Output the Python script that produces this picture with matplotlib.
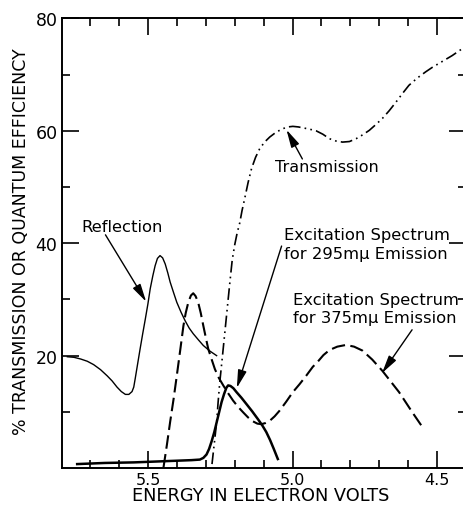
import numpy as np
import matplotlib
matplotlib.use("Agg")
import matplotlib.pyplot as plt
from matplotlib.ticker import FixedLocator, NullFormatter

# reflection (thin solid)
refl_ev = [5.780, 5.757, 5.734, 5.711, 5.689, 5.665, 5.642, 5.625, 5.608, 5.593,
           5.579, 5.567, 5.556, 5.550, 5.545, 5.537, 5.528, 5.519, 5.510, 5.501,
           5.493, 5.484, 5.476, 5.468, 5.459, 5.450, 5.441, 5.432, 5.424, 5.412,
           5.401, 5.386, 5.372, 5.358, 5.344, 5.326, 5.309, 5.286, 5.263]
refl_pct = [19.8, 19.7, 19.4, 19.0, 18.4, 17.5, 16.4, 15.5, 14.4, 13.6,
            13.1, 13.1, 13.6, 14.4, 15.9, 18.4, 21.2, 23.9, 26.5, 29.2,
            31.9, 34.2, 36.0, 37.3, 37.8, 37.4, 36.3, 34.7, 33.1, 31.2,
            29.5, 27.7, 26.2, 24.9, 23.9, 22.8, 21.8, 20.8, 20.0]

# excitation spectrum for 375 mu emission (dashed)
exc375_ev = [5.447, 5.435, 5.424, 5.412, 5.401, 5.389, 5.378, 5.370, 5.361, 5.352,
             5.344, 5.336, 5.327, 5.318, 5.309, 5.300, 5.292, 5.280, 5.269, 5.255,
             5.240, 5.223, 5.206, 5.189, 5.171, 5.154, 5.137, 5.122, 5.108, 5.094,
             5.079, 5.062, 5.045, 5.022, 4.999, 4.976, 4.953, 4.930, 4.913, 4.893,
             4.872, 4.845, 4.815, 4.787, 4.758, 4.724, 4.689, 4.660, 4.631, 4.608,
             4.585, 4.565, 4.545]
exc375_pct = [0.1, 4.2, 8.2, 12.3, 16.4, 21.0, 25.3, 27.6, 29.5, 30.7,
              31.1, 30.6, 29.5, 27.6, 25.3, 23.1, 21.2, 19.3, 17.6, 16.0,
              14.7, 13.3, 12.0, 10.9, 9.9, 9.0, 8.3, 7.9, 7.8, 8.0,
              8.4, 9.2, 10.2, 11.8, 13.5, 14.9, 16.4, 18.0, 18.9, 20.1,
              21.0, 21.6, 21.9, 21.6, 20.9, 19.3, 17.3, 15.4, 13.5, 11.7,
              9.9, 8.4, 6.9]

# excitation spectrum for 295 mu emission (heavy solid)
exc295_ev = [5.746, 5.65, 5.55, 5.45, 5.40, 5.35, 5.321, 5.309, 5.298, 5.289,
             5.280, 5.271, 5.263, 5.254, 5.246, 5.237, 5.229, 5.223, 5.215, 5.205,
             5.194, 5.177, 5.160, 5.140, 5.120, 5.105, 5.091, 5.078, 5.065, 5.051]
exc295_pct = [0.7, 0.9, 1.0, 1.2, 1.3, 1.4, 1.5, 1.8, 2.4, 3.4,
              4.8, 6.4, 8.1, 10.0, 11.7, 13.2, 14.3, 14.7, 14.6, 14.2,
              13.5, 12.5, 11.4, 10.1, 8.7, 7.6, 6.4, 5.0, 3.4, 1.6]

# transmission (dash-dot-dot)
trans_ev = [5.279, 5.271, 5.263, 5.258, 5.252, 5.243, 5.234, 5.225, 5.217, 5.209,
            5.200, 5.192, 5.183, 5.175, 5.166, 5.154, 5.142, 5.128, 5.114, 5.097,
            5.079, 5.056, 5.033, 5.016, 4.999, 4.980, 4.960, 4.941, 4.918, 4.895,
            4.872, 4.850, 4.827, 4.803, 4.780, 4.757, 4.734, 4.712, 4.689, 4.665,
            4.642, 4.620, 4.597, 4.568, 4.539, 4.516, 4.493, 4.470, 4.447, 4.430,
            4.413]
trans_pct = [0.7, 4.4, 8.1, 11.6, 15.3, 19.8, 24.4, 29.0, 33.1, 37.0,
             39.8, 41.8, 43.6, 45.8, 47.9, 50.8, 53.3, 55.3, 56.8, 58.0,
             58.9, 59.8, 60.4, 60.7, 60.8, 60.7, 60.5, 60.3, 60.0, 59.4,
             58.6, 58.2, 58.0, 58.1, 58.6, 59.3, 60.1, 61.1, 62.2, 63.6,
             65.1, 66.6, 68.1, 69.4, 70.5, 71.3, 72.0, 72.7, 73.4, 74.0,
             74.6]

x_major = [5.5, 5.0, 4.5]
x_labels = ["5.5", "5.0", "4.5"]
x_minor = [5.7, 5.6, 5.4, 5.3, 5.2, 5.1, 4.9, 4.8, 4.7, 4.6]
y_major = [20, 40, 60, 80]
y_minor = [10, 30, 50, 70]

plt.rcParams["font.family"] = "DejaVu Sans"

fig = plt.figure(figsize=(4.63, 5.06), dpi=100)
ax = fig.add_axes([0.133, 0.0731, 0.873, 0.8884])

ax.plot(refl_ev, refl_pct, color="black", lw=1.0)
ax.plot(exc375_ev, exc375_pct, color="black", lw=1.5, linestyle=(0, (6.5, 2.6)))
ax.plot(exc295_ev, exc295_pct, color="black", lw=1.8)
ax.plot(trans_ev, trans_pct, color="black", lw=1.2,
        linestyle=(0, (7, 2.5, 1, 2.5, 1, 2.5)))

ax.set_xlim(5.8, 4.4)
ax.set_ylim(0, 80)

ax.xaxis.set_major_locator(FixedLocator(x_major))
ax.xaxis.set_minor_locator(FixedLocator(x_minor))
ax.yaxis.set_major_locator(FixedLocator(y_major))
ax.yaxis.set_minor_locator(FixedLocator(y_minor))
ax.set_xticklabels(x_labels)
ax.yaxis.set_minor_formatter(NullFormatter())

ax.tick_params(which="both", direction="in", top=True, right=True, width=1.2)
ax.tick_params(which="major", length=12)
ax.tick_params(which="minor", length=6)
ax.tick_params(axis="x", which="major", labelsize=11.5, pad=3)
ax.tick_params(axis="y", which="major", labelsize=12.5, pad=3)
for s in ax.spines.values():
    s.set_linewidth(1.4)

fig.text(0.563, 4.5 / 506, "ENERGY IN ELECTRON VOLTS", fontsize=12.8,
         ha="center", va="baseline")
ax.set_ylabel("% TRANSMISSION OR QUANTUM EFFICIENCY", fontsize=12.5)
ax.yaxis.set_label_coords(-0.078, 0.506)

arrow = dict(arrowstyle="-|>,head_length=0.9,head_width=0.22", color="black",
             lw=1.0, mutation_scale=12, shrinkA=0, shrinkB=0)

ax.text(5.59, 42.9, "Reflection", fontsize=11.8, ha="center", va="center")
ax.annotate("", xy=(5.507, 29.6), xytext=(5.648, 41.5), arrowprops=arrow)

ax.text(5.062, 53.6, "Transmission", fontsize=11.5, ha="left", va="center")
ax.annotate("", xy=(5.021, 60.2), xytext=(4.966, 55.0), arrowprops=arrow)

ax.text(5.028, 39.9, "Excitation Spectrum\nfor 295mμ Emission", fontsize=11.8,
        ha="left", va="center", linespacing=1.35)
ax.annotate("", xy=(5.193, 14.25), xytext=(5.038, 39.5), arrowprops=arrow)

ax.text(5.0, 28.3, "Excitation Spectrum\nfor 375mμ Emission", fontsize=11.8,
        ha="left", va="center", linespacing=1.25)
ax.annotate("", xy=(4.690, 16.9), xytext=(4.586, 24.6), arrowprops=arrow)

fig.savefig("out.png", dpi=100)
